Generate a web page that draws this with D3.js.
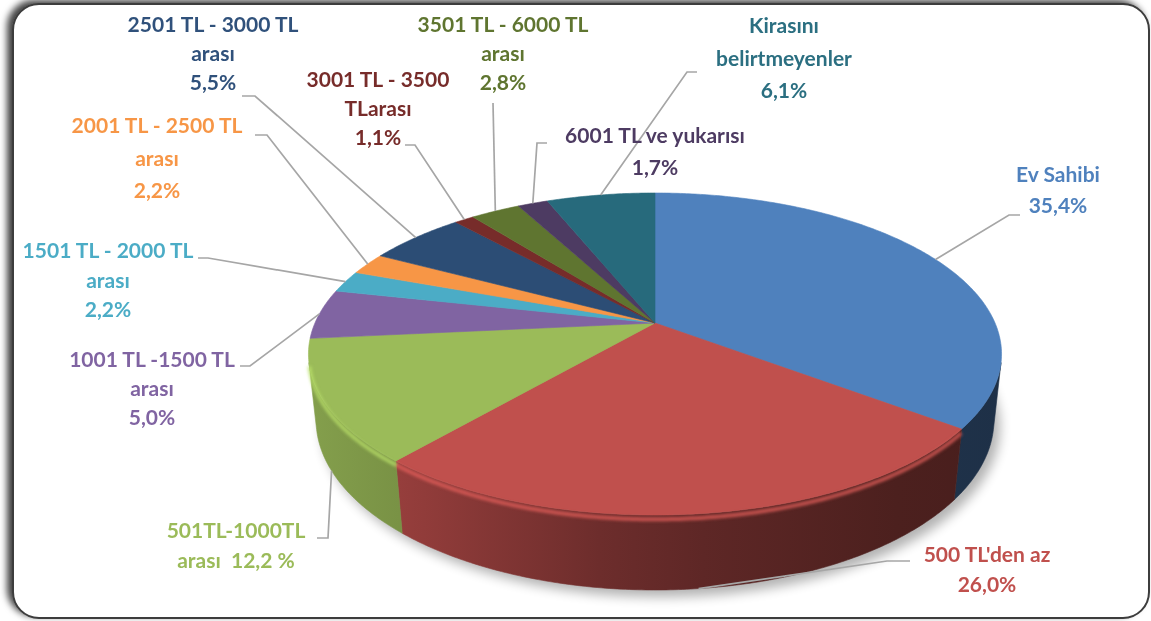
<!DOCTYPE html>
<html>
<head>
<meta charset="utf-8">
<script src="https://cdn.jsdelivr.net/npm/d3@7"></script>
<style>
  body { margin: 0; background: #fff; }
  text { font-family: Lato, "Open Sans", sans-serif; font-weight: 700; white-space: pre; }
</style>
</head>
<body>
<svg id="chart" width="1151" height="621"></svg>
<script>
// slices, clockwise from 12 o'clock
var categories = ["Ev Sahibi", "500 TL'den az", "501TL-1000TL arası", "1001 TL -1500 TL arası",
  "1501 TL - 2000 TL arası", "2001 TL - 2500 TL arası", "2501 TL - 3000 TL arası",
  "3001 TL - 3500 TLarası", "3501 TL - 6000 TL arası", "6001 TL ve yukarısı", "Kirasını belirtmeyenler"];
var values = [35.4, 26.0, 12.2, 5.0, 2.2, 2.2, 5.5, 1.1, 2.8, 1.7, 6.1];
var labelLines = [
  ["Ev Sahibi", "35,4%"],
  ["500 TL'den az", "26,0%"],
  ["501TL-1000TL", "arası  12,2 %"],
  ["1001 TL -1500 TL", "arası", "5,0%"],
  ["1501 TL - 2000 TL", "arası", "2,2%"],
  ["2001 TL - 2500 TL", "arası", "2,2%"],
  ["2501 TL - 3000 TL", "arası", "5,5%"],
  ["3001 TL - 3500", "TLarası", "1,1%"],
  ["3501 TL - 6000 TL", "arası", "2,8%"],
  ["6001 TL ve yukarısı", "1,7%"],
  ["Kirasını", "belirtmeyenler", "6,1%"]
];
var colors = ["#4F81BD", "#C0504D", "#9BBB59", "#8064A2", "#4BACC6", "#F79646",
  "#2C4D75", "#772C2A", "#5F7530", "#4D3B62", "#276A7C"];
var textColors = ["#4F81BD", "#C0504D", "#9BBB59", "#8064A2", "#4BACC6", "#F79646",
  "#30517b", "#772C2A", "#5F7530", "#4D3B62", "#2b6f81"];

// label placement: text centre x, first baseline, line step, leader start/elbow, where leader meets pie
var labelLayout = [
  {x: 1058, y: 182, lh: 31, p0: [1020, 215], p1: [1009, 215], attach: "top"},
  {x: 987, y: 562, lh: 30, p0: [910, 561], p1: [887, 561], attach: "bottom"},
  {x: 236, y: 538, lh: 30, p0: [317, 538], p1: [328, 538], attach: "bottom"},
  {x: 152, y: 367, lh: 29, p0: [240, 366], p1: [250, 366], attach: "top"},
  {x: 108, y: 258, lh: 29.5, p0: [198, 258], p1: [208, 258], attach: "top"},
  {x: 157, y: 133, lh: 32.5, p0: [255, 135], p1: [267, 135], attach: "top"},
  {x: 213, y: 32, lh: 29, p0: [242, 96], p1: [255, 96], attach: "top"},
  {x: 378, y: 87, lh: 29, p0: [405, 145], p1: [415, 145], attach: "top"},
  {x: 503, y: 32, lh: 29, p0: [493, 103], p1: [493, 103], attach: "top"},
  {x: 655, y: 143, lh: 32, p0: [547, 143], p1: [537, 143], attach: "top"},
  {x: 784, y: 33, lh: 32.5, p0: [697, 72], p1: [687, 72], attach: "top"}
];

var svg = d3.select("#chart");
var defs = svg.append("defs");

var fs = defs.append("filter").attr("id", "frameShadow")
  .attr("x", "-5%").attr("y", "-5%").attr("width", "110%").attr("height", "110%");
fs.append("feDropShadow").attr("dx", -5).attr("dy", -3).attr("stdDeviation", 3.5)
  .attr("flood-color", "#000").attr("flood-opacity", 0.75);

defs.append("filter").attr("id", "blur6")
  .attr("x", "-20%").attr("y", "-20%").attr("width", "140%").attr("height", "140%")
  .append("feGaussianBlur").attr("stdDeviation", 6);
defs.append("filter").attr("id", "blur2")
  .attr("x", "-20%").attr("y", "-20%").attr("width", "140%").attr("height", "140%")
  .append("feGaussianBlur").attr("stdDeviation", 1.6);

// frame
svg.append("rect")
  .attr("x", 13).attr("y", 4)
  .attr("width", 1136).attr("height", 614)
  .attr("rx", 26)
  .attr("fill", "#fff")
  .attr("stroke", "#3c3c3c")
  .attr("stroke-width", 2)
  .attr("filter", "url(#frameShadow)");

// simple perspective projection of a tilted disc
var cx = 655, cy = 323, focal = 1571, camDist = 4.62;
var tilt = Math.asin(0.456), thick = 0.219;
function proj(theta, r, yy) {
  var X = r * Math.sin(theta), Z = -r * Math.cos(theta);
  var dp = camDist - yy * Math.sin(tilt) - Z * Math.cos(tilt);
  return [cx + focal * X / dp, cy + focal * (Z * Math.sin(tilt) - yy * Math.cos(tilt)) / dp];
}
function arcPts(a, b, yy) {
  var n = Math.max(2, Math.ceil((b - a) / 0.01));
  return d3.range(n + 1).map(function(i) { return proj(a + (b - a) * i / n, 1, yy); });
}
var line = d3.line();

// visible part of the outer wall
var zt = 1 / (camDist * Math.cos(tilt));
var wallA = Math.acos(-zt), wallB = 2 * Math.PI - wallA;

var pie = d3.pie().sort(null).value(function(d) { return d; });
var arcs = pie(values);

// shadow under the pie
var shadowG = svg.append("g").attr("transform", "translate(6,7)")
  .attr("filter", "url(#blur6)").attr("opacity", 0.3);
shadowG.append("path").attr("d", line(arcPts(0, 2 * Math.PI, -thick)) + "Z").attr("fill", "#000");

// wall gradients
var x0 = proj(wallA, 1, 0)[0], x1 = proj(wallB, 1, 0)[0];
var shadeStops = [[0, 0.45], [0.13, 0.7], [0.42, 1.6], [0.57, 2.0], [0.85, 2.6], [1, 2.75]];
colors.forEach(function(c, i) {
  var g = defs.append("linearGradient").attr("id", "wall" + i)
    .attr("gradientUnits", "userSpaceOnUse")
    .attr("x1", x1).attr("x2", x0).attr("y1", 0).attr("y2", 0);
  shadeStops.forEach(function(s) {
    g.append("stop").attr("offset", s[0]).attr("stop-color", d3.color(c).darker(s[1]));
  });
});

var walls = svg.append("g");
var rims = [];
arcs.forEach(function(d, i) {
  var a = Math.max(d.startAngle, wallA), b = Math.min(d.endAngle, wallB);
  if (a >= b) return;
  var pts = arcPts(a, b, 0).concat(arcPts(a, b, -thick).reverse());
  walls.append("path").attr("d", line(pts) + "Z")
    .attr("fill", "url(#wall" + i + ")")
    .attr("stroke", "url(#wall" + i + ")").attr("stroke-width", 0.6);
  rims.push({i: i, a: a, b: b});
});

// top faces
var tops = svg.append("g");
arcs.forEach(function(d, i) {
  var pts = [proj(0, 0, 0)].concat(arcPts(d.startAngle, d.endAngle, 0));
  tops.append("path").attr("d", line(pts) + "Z")
    .attr("fill", colors[i])
    .attr("stroke", colors[i]).attr("stroke-width", 0.6);
});

// bevel highlight along the front edge (left and middle only, right side stays dark)
var rimG = svg.append("g").attr("filter", "url(#blur2)");
rims.forEach(function(r) {
  var b = Math.min(r.b, Math.PI * 0.8 + Math.PI * 0.2);
  if (r.i === 0) return;
  rimG.append("path").attr("d", line(arcPts(r.a, r.b, -0.012)))
    .attr("fill", "none")
    .attr("stroke", d3.color(colors[r.i]).brighter(0.5))
    .attr("stroke-width", 4)
    .attr("opacity", 0.75);
});

// leader lines
var leaders = svg.append("g");
arcs.forEach(function(d, i) {
  var L = labelLayout[i];
  var mid = (d.startAngle + d.endAngle) / 2;
  var end = proj(mid, 1, L.attach === "bottom" ? -thick : 0);
  leaders.append("path")
    .attr("d", line([L.p0, L.p1, end]))
    .attr("fill", "none")
    .attr("stroke", "#a6a6a6")
    .attr("stroke-width", 1.7);
});

// labels
var labels = svg.append("g");
labelLines.forEach(function(lines, i) {
  var L = labelLayout[i];
  lines.forEach(function(t, k) {
    labels.append("text")
      .attr("x", L.x)
      .attr("y", L.y + k * L.lh)
      .attr("text-anchor", "middle")
      .attr("font-size", 21)
      .attr("fill", textColors[i])
      .text(t);
  });
});
</script>
</body>
</html>
